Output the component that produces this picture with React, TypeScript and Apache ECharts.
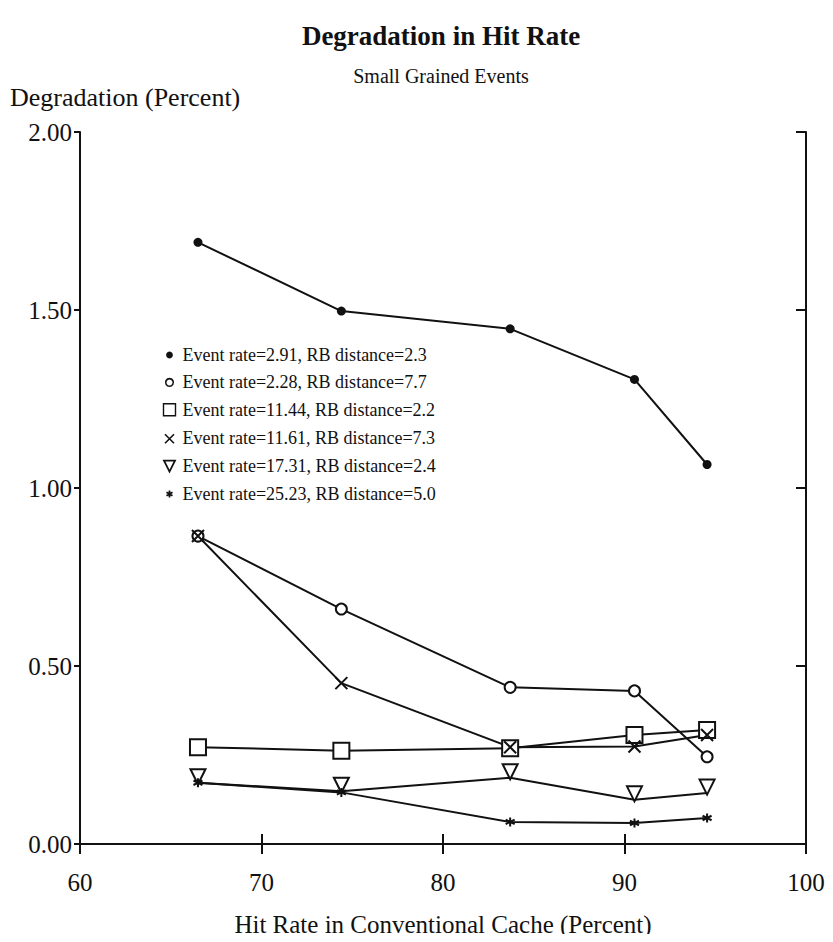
import React, { useEffect, useRef } from "react";
import * as echarts from "echarts";

const hitRates = [66.5, 74.4, 83.7, 90.55, 94.55];
const seriesNames = [
  "Event rate=2.91, RB distance=2.3",
  "Event rate=2.28, RB distance=7.7",
  "Event rate=11.44, RB distance=2.2",
  "Event rate=11.61, RB distance=7.3",
  "Event rate=17.31, RB distance=2.4",
  "Event rate=25.23, RB distance=5.0",
];
const s1 = [1.69, 1.497, 1.447, 1.305, 1.066];
const s2 = [0.865, 0.66, 0.44, 0.43, 0.245];
const s3 = [0.272, 0.262, 0.269, 0.306, 0.32];
const s4 = [0.865, 0.452, 0.272, 0.274, 0.306];
const s5 = [0.172, 0.148, 0.186, 0.124, 0.143];
const s6 = [0.172, 0.145, 0.062, 0.059, 0.073];
const yTicks = [0, 0.5, 1.0, 1.5, 2.0];
const xTicks = [60, 70, 80, 90, 100];

const FONT = "'Liberation Serif', 'Times New Roman', serif";
const INK = "#111";

const X_PATH = "path://M0,0L10,10M10,0L0,10";
const STAR_PATH = "path://M5,0L5,10M0.7,2.5L9.3,7.5M0.7,7.5L9.3,2.5";

// legend icons with padding points so sizes differ within the same box
const L_FILLED = "path://M0,0M14,14M7,3.6A3.4,3.4,0,1,1,6.99,3.6Z";
const L_OPEN = "path://M0,0M14,14M7,3.2A3.8,3.8,0,1,1,6.99,3.2Z";
const L_SQUARE = "path://M0,0M14,14M1,1L13,1L13,13L1,13Z";
const L_X = "path://M0,0M14,14M2.5,3.5L11.5,12.5M11.5,3.5L2.5,12.5";
const L_TRI = "path://M0,0M14,14M1.5,2L12.5,2L7,13Z";
const L_STAR = "path://M0,0M14,14M7,4L7,11M4,5.7L10,9.3M4,9.3L10,5.7";

function pts(vals: number[]) {
  return hitRates.map((x, i) => [x, vals[i]]);
}

export default function App() {
  const ref = useRef<HTMLDivElement>(null);
  useEffect(() => {
    if (!ref.current) return;
    const chart = echarts.init(ref.current, undefined, { renderer: "svg" });
    const lineStyle = { color: INK, width: 2 };
    const base = {
      type: "line",
      lineStyle,
      showAllSymbol: true,
      emphasis: { disabled: true },
    };
    chart.setOption({
      animation: false,
      backgroundColor: "#fff",
      title: [
        {
          text: "Degradation in Hit Rate",
          left: 436,
          top: 17,
          textAlign: "center",
          textStyle: { fontFamily: FONT, fontSize: 27, fontWeight: "bold", color: INK },
        },
        {
          text: "Small Grained Events",
          left: 436,
          top: 61,
          textAlign: "center",
          textStyle: { fontFamily: FONT, fontSize: 20, fontWeight: "normal", color: INK },
        },
      ],
      legend: {
        orient: "vertical",
        left: 160,
        top: 346,
        padding: 0,
        itemWidth: 14,
        itemHeight: 14,
        itemGap: 9.4,
        selectedMode: false,
        textStyle: { fontFamily: FONT, fontSize: 18, color: INK, padding: [0, 0, 0, 1] },
        data: [
          { name: seriesNames[0], icon: L_FILLED, itemStyle: { color: INK, borderWidth: 0 } },
          { name: seriesNames[1], icon: L_OPEN, itemStyle: { color: "#fff", borderColor: INK, borderWidth: 1.6 } },
          { name: seriesNames[2], icon: L_SQUARE, itemStyle: { color: "#fff", borderColor: INK, borderWidth: 1.4 } },
          { name: seriesNames[3], icon: L_X, itemStyle: { color: "none", borderColor: INK, borderWidth: 1.6 } },
          { name: seriesNames[4], icon: L_TRI, itemStyle: { color: "#fff", borderColor: INK, borderWidth: 1.8 } },
          { name: seriesNames[5], icon: L_STAR, itemStyle: { color: "none", borderColor: INK, borderWidth: 1.8 } },
        ],
      },
      grid: { left: 80, right: 27, top: 132, bottom: 96, containLabel: false },
      xAxis: [
        {
          type: "value",
          min: 60,
          max: 100,
          interval: 10,
          position: "bottom",
          name: "Hit Rate in Conventional Cache (Percent)",
          nameLocation: "middle",
          nameGap: 68,
          nameTextStyle: { fontFamily: FONT, fontSize: 25, color: INK },
          axisLine: { show: true, lineStyle: { color: INK, width: 2 } },
          axisTick: { show: true, inside: true, length: 10, lineStyle: { color: INK, width: 2 } },
          axisLabel: {
            fontFamily: FONT,
            fontSize: 25,
            color: INK,
            margin: 26,
            formatter: (v: number) => (xTicks.includes(v) ? String(v) : ""),
          },
          splitLine: { show: false },
        },
        {
          type: "value",
          min: 60,
          max: 100,
          interval: 10,
          position: "top",
          axisLine: { show: true, lineStyle: { color: INK, width: 2 } },
          axisTick: { show: true, inside: true, length: 10, lineStyle: { color: INK, width: 2 } },
          axisLabel: { show: false },
          splitLine: { show: false },
        },
      ],
      yAxis: [
        {
          type: "value",
          min: 0,
          max: 2,
          interval: 0.5,
          position: "left",
          name: "Degradation (Percent)",
          nameLocation: "end",
          nameGap: 22,
          nameTextStyle: { fontFamily: FONT, fontSize: 26, color: INK, align: "left", padding: [0, 0, 0, -70] },
          axisLine: { show: true, lineStyle: { color: INK, width: 2 } },
          axisTick: { show: true, inside: false, length: 6, lineStyle: { color: INK, width: 2 } },
          axisLabel: {
            fontFamily: FONT,
            fontSize: 25,
            color: INK,
            margin: 8,
            formatter: (v: number) => (yTicks.includes(v) ? v.toFixed(2) : ""),
          },
          splitLine: { show: false },
        },
        {
          type: "value",
          min: 0,
          max: 2,
          interval: 0.5,
          position: "right",
          axisLine: { show: true, lineStyle: { color: INK, width: 2 } },
          axisTick: { show: true, inside: true, length: 10, lineStyle: { color: INK, width: 2 } },
          axisLabel: { show: false },
          splitLine: { show: false },
        },
      ],
      series: [
        {
          ...base,
          name: seriesNames[0],
          data: pts(s1),
          symbol: "circle",
          symbolSize: 9,
          itemStyle: { color: INK },
        },
        {
          ...base,
          name: seriesNames[1],
          data: pts(s2),
          symbol: "emptyCircle",
          symbolSize: 11,
          itemStyle: { color: INK, borderWidth: 2 },
        },
        {
          ...base,
          name: seriesNames[2],
          data: pts(s3),
          symbol: "emptyRect",
          symbolSize: 16,
          itemStyle: { color: INK, borderWidth: 2 },
        },
        {
          ...base,
          name: seriesNames[3],
          data: pts(s4),
          symbol: X_PATH,
          symbolSize: 12,
          itemStyle: { color: "none", borderColor: INK, borderWidth: 2 },
        },
        {
          ...base,
          name: seriesNames[4],
          data: pts(s5),
          symbol: "emptyTriangle",
          symbolRotate: 180,
          symbolSize: 15,
          symbolOffset: [0, -6],
          itemStyle: { color: INK, borderWidth: 2 },
        },
        {
          ...base,
          name: seriesNames[5],
          data: pts(s6),
          symbol: STAR_PATH,
          symbolSize: 9,
          itemStyle: { color: "none", borderColor: INK, borderWidth: 2 },
        },
      ],
    });
    return () => chart.dispose();
  }, []);
  return <div ref={ref} style={{ width: 833, height: 942, margin: -8 }} />;
}
